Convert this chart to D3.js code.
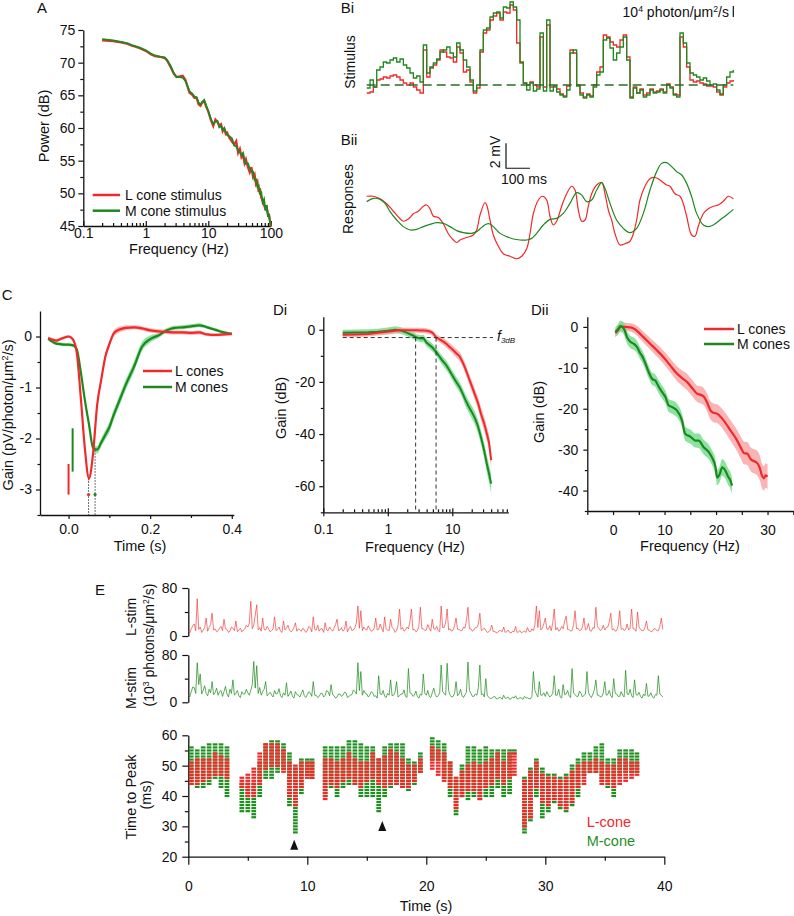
<!DOCTYPE html>
<html><head><meta charset="utf-8">
<script src="https://cdn.jsdelivr.net/npm/d3@7"></script>
<style>
body{margin:0;background:#fff;}
svg{display:block;}
</style></head><body>
<svg id="fig" width="794" height="916"></svg>
<script>
// ---------------- DATA ----------------
// Panel A: power spectra of stimuli
const aFreq = [0.2,0.3,0.4,0.5,0.6,0.7,0.8,1.0,1.2,1.4,1.7,2.0,2.2,2.5,2.8,3.1,3.5,3.9,4.3,4.7,5.0,5.5,6.0,6.5,7.0,7.5,8.0,8.6,9.2,10,11,12,13,14,15,16,17,18,19,20,22,24,26,28,30,32,34,36,38,40,43,46,49,52,55,58,61,64,67,70,74,78,82,86,90,94,97,100];
const aPowL = [73.4,73.3,73.1,72.9,72.6,72.4,72.2,71.8,71.3,71.0,70.9,70.7,70.3,69.3,68.3,67.8,67.9,68.0,67.4,66.2,65.4,65.1,64.6,64.6,63.6,63.4,63.9,64.1,63.3,62.5,61.2,60.3,61.3,60.9,60.4,60.6,59.5,59.9,59.1,59.3,58.4,57.9,57.5,58.0,56.2,56.8,55.5,55.8,54.6,55.2,54.0,53.2,54.0,52.5,52.9,51.4,51.8,50.2,50.8,49.4,48.8,48.2,47.6,47.9,46.8,46.5,45.8,44.9];
const aPowM = [73.6,73.4,73.2,73.0,72.7,72.5,72.3,71.9,71.4,71.1,70.9,70.8,70.4,69.5,68.4,67.8,67.8,67.7,67.2,66.3,65.6,65.3,64.8,64.7,63.9,63.6,64.0,64.3,63.5,62.6,61.4,60.6,61.0,61.1,60.1,60.3,59.7,60.0,59.4,58.9,58.7,58.4,57.3,57.2,56.6,56.3,55.9,56.2,55.0,54.5,54.6,53.8,53.3,53.3,52.0,52.1,51.0,51.2,49.8,50.3,48.6,49.1,47.4,48.2,46.4,46.9,45.5,45.0];
const aYTicks = [45,50,55,60,65,70,75];
const aXTicks = [0.1,1,10,100];

// Panel Bi: stimulus (frames of ~13.9 ms)
const biGreen = [12,20,13,30,33,38,37,40,42,38, 41,35,32,27,22,24,18,55,27,33, 37,41,48,50,53,47,43,57,50,40, 33,20,9,15,50,70,72,83,87,88, 82,93,92,98,93,80,38,17,10,17, 9,11,67,9,80,9,14,8,5,3, 10,47,50,14,5,2,5,3,13,25, 28,60,62,52,40,47,53,63,40,2, 12,7,10,3,5,10,7,8,10,7, 15,12,5,3,67,57,37,27,25,23, 20,22,19,15,16,10,6,15,23,28, 30];
const biRed = [7,8,13,20,21,23,22,24,25,23, 20,17,15,17,13,10,7,50,23,32, 35,40,50,48,43,42,38,53,47,28, 30,18,7,12,48,67,70,80,84,87, 80,88,87,95,90,57,37,17,15,18, 15,13,63,13,75,13,13,11,6,4, 14,50,47,15,7,3,6,4,15,28, 33,65,63,58,55,53,60,65,43,3, 13,7,11,5,7,11,8,9,11,8, 16,13,6,5,63,53,33,20,18,19, 17,16,14,14,13,8,5,13,17,19, 20];
const biMean = 15;
const biScaleBar = [83, 94];

// Panel Bii: responses [frame, mV]
const respL = [[0,1.1],[2,1.1],[4,0.9],[6,0.5],[8,-0.1],[10,-0.7],[11,-0.9],[12,-0.8],[13,-0.6],[14,-0.3],[15.5,-0.1],[17,0.3],[18,0.4],[19,0.1],[20,-0.5],[21.5,-0.6],[23,-1.1],[24.5,-1.9],[26,-2.4],[27,-2.6],[28,-2.4],[30,-2.2],[32,-2.0],[33,-1.6],[34,-0.4],[35.5,0.6],[36,0.4],[37,-0.8],[38,-2.0],[39.5,-2.9],[41,-3.5],[43,-3.7],[45,-3.9],[46.5,-3.7],[48,-3.1],[49,-1.9],[50,-0.3],[51.5,0.8],[52.8,1.1],[54,0.8],[55,-0.5],[56,-1.2],[57,-0.9],[58.5,0.3],[60,1.3],[61.5,1.9],[62.5,1.6],[63.5,0],[64.5,-0.9],[65.5,-0.8],[66.5,0.3],[67.5,1.3],[69,2.0],[70.5,2.2],[71.5,1.3],[72.5,0],[73.5,-0.8],[74.5,-1.9],[76,-2.8],[77.5,-2.7],[79,-2.5],[80,-1.9],[81,-0.8],[82,0.8],[83.5,1.9],[85,2.5],[86.5,2.6],[88,2.4],[90,2.0],[91,1.9],[92.5,1.3],[94,1.1],[95,0.5],[96,-0.5],[97.5,-2.0],[98.5,-2.1],[99.5,-1.3],[101,-0.3],[102.5,0.1],[104,0.3],[105.5,0.4],[107,0.7],[108.5,1.1],[110,0.9]];
const respM = [[0,0.67],[2,0.93],[4,0.85],[5.5,0.53],[7,-0.13],[9,-0.8],[11,-1.33],[13,-1.6],[15,-1.55],[17,-1.33],[19,-1.15],[21,-1.01],[23,-1.07],[25,-1.33],[27,-1.65],[29,-1.81],[31.5,-1.87],[33,-1.73],[34.5,-1.39],[36,-1.12],[37,-1.12],[38.5,-1.47],[40,-1.87],[42,-2.13],[44,-2.32],[46,-2.4],[48,-2.4],[49.5,-2.27],[51,-1.87],[53,-1.2],[55,-0.75],[57,-0.67],[59,-0.27],[61,0.53],[63,1.39],[64.5,1.2],[66,0.67],[67.5,0.8],[69,1.6],[70.5,2.19],[71.5,1.73],[73,0.53],[75,-0.8],[77,-1.47],[79,-1.81],[81,-1.47],[83,-0.27],[85,1.6],[87,3.07],[88.5,3.73],[90,3.79],[91.5,3.47],[93,3.07],[94.5,2.8],[96,2.13],[97.5,1.07],[99,-0.27],[101,-1.2],[102.5,-1.33],[104,-1.2],[106,-0.8],[108,-0.4],[110,0.05]];
const frameMs = 1000/72;

// Panel C: impulse responses
const cTime = [-0.05,-0.04,-0.03,-0.02,-0.01,0,0.01,0.02,0.03,0.04,0.05,0.06,0.07,0.08,0.09,0.1,0.11,0.12,0.13,0.14,0.16,0.18,0.2,0.22,0.24,0.26,0.28,0.3,0.32,0.34,0.36,0.38,0.4];
const cGainL = [-0.03,-0.06,-0.08,-0.05,-0.02,0.0,-0.05,-0.31,-1.2,-2.2,-2.78,-2.3,-1.35,-0.85,-0.4,-0.15,0.05,0.12,0.15,0.17,0.18,0.16,0.12,0.1,0.09,0.08,0.08,0.07,0.08,0.04,0.03,0.04,0.05];
const cGainM = [-0.04,-0.1,-0.14,-0.15,-0.16,-0.16,-0.17,-0.25,-0.7,-1.25,-1.72,-2.18,-2.22,-2.08,-1.93,-1.78,-1.55,-1.35,-1.15,-0.95,-0.6,-0.2,-0.05,0.02,0.12,0.17,0.18,0.2,0.22,0.18,0.13,0.08,0.05];
const cSemL = [0.03,0.03,0.03,0.03,0.03,0.03,0.03,0.04,0.05,0.06,0.07,0.07,0.07,0.07,0.07,0.07,0.06,0.06,0.05,0.05,0.04,0.04,0.04,0.04,0.04,0.04,0.04,0.04,0.04,0.03,0.03,0.03,0.03];
const cSemM = [0.03,0.03,0.03,0.03,0.03,0.03,0.03,0.04,0.05,0.06,0.06,0.06,0.07,0.08,0.09,0.1,0.1,0.1,0.1,0.1,0.1,0.09,0.07,0.05,0.04,0.04,0.04,0.04,0.04,0.03,0.03,0.03,0.03];
const cPeakT = [0.049, 0.065];
const cPeakG = [-2.78, -2.23];
const cOnsetBarL = [0.0, -2.5, -3.1];
const cOnsetBarM = [0.01, -1.8, -2.65];

// Panel Di: gain (log freq)
const diFreq = [0.2,0.3,0.5,0.7,1,1.3,1.6,2,2.5,2.8,3.2,3.6,4,4.5,5,5.6,6.3,7,8,9,10,11.5,13,14.5,16,18,20,22.5,25,28,31,34,37,40];
const diL = [-1.9,-1.8,-1.6,-1.2,-0.8,-0.4,-0.2,-0.2,-0.2,-0.2,-0.3,-0.3,-0.4,-0.7,-1.3,-2.9,-3.6,-4.3,-5.3,-6.5,-7.5,-9.0,-10.2,-12.5,-15,-18.5,-21.5,-25,-28,-32.5,-35.7,-39.5,-43,-50];
const diM = [-1.2,-1.1,-1.0,-0.8,-0.4,0,-0.3,-1.2,-2.3,-3.0,-3.4,-3.3,-5.0,-6.0,-7.0,-8.5,-10.2,-11.8,-13.5,-15.5,-17.5,-20,-22,-24.5,-27,-29.5,-31.5,-34,-37,-41.5,-46,-51,-55,-59];
const diSemL = [1,1,1,1,1,1,1,1,1,1,1,1,1,1,1,1.2,1.2,1.3,1.4,1.5,1.5,1.6,1.7,1.8,1.9,2,2,2.2,2.3,2.5,2.6,2.8,3,3];
const diSemM = [1.2,1.2,1.2,1.2,1.3,1.3,1.3,1.3,1.3,1.3,1.3,1.4,1.4,1.5,1.5,1.5,1.6,1.7,1.8,1.8,1.9,2,2,2.1,2.2,2.3,2.4,2.5,2.6,2.8,3,3.2,3.5,3.5];
const diF3dB = [2.7, 5.6];
const diLevel3dB = -3;

// Panel Dii: gain (linear freq)
const diiFreqL = [0.45,1.0,1.5,2.4,3.4,4.0,4.7,5.9,7.2,8.5,9.8,11.1,12.4,13.4,14.4,15.4,16.3,17.0,17.6,18.3,18.9,19.5,20.2,21.5,22.8,24.1,24.8,25.4,26.1,26.7,28,28.5,28.9,29.3,29.6,30];
const diiL = [-1.5,-0.7,0.1,0,-0.1,-0.4,-1.0,-2.5,-4.1,-5.7,-7.4,-9.4,-11.4,-12.5,-13.5,-15.0,-16.3,-16.6,-17.0,-18.6,-20.4,-21.0,-21.2,-22.9,-25.3,-27.8,-29.5,-30.8,-31.0,-32.3,-33.3,-34.5,-36.3,-37.0,-36.3,-36.6];
const diiSemL = [1,1,1,1,1,1.1,1.2,1.3,1.4,1.5,1.6,1.7,1.8,1.9,2,2,2,2.1,2.1,2.2,2.2,2.3,2.3,2.4,2.5,2.6,2.7,2.8,2.8,2.9,3,3,3,3,3,3];
const diiFreqM = [0.45,1.0,1.4,2.1,2.7,3.4,4.0,4.7,5.3,5.6,6.3,6.9,7.6,8.2,8.9,9.5,10.2,10.8,11.5,12.4,13.4,14.0,15.0,16.0,16.6,17.6,18.6,19.2,19.9,20.2,20.7,21.2,21.8,22.3,22.8,23.1];
const diiM = [-1.2,-0.5,0.2,-0.4,-2.5,-3.7,-4.1,-5.0,-6.5,-7.0,-9.0,-11.0,-12.7,-13.1,-14.7,-15.9,-17.2,-19.2,-19.6,-20.4,-22.9,-26.1,-26.8,-27.8,-27.8,-29.4,-30.6,-31.9,-34.3,-36.8,-36.0,-34.3,-35.1,-36.5,-37.6,-38.8];
const diiSemM = [1.2,1.3,1.4,1.5,1.5,1.5,1.5,1.5,1.5,1.5,1.5,1.5,1.5,1.5,1.6,1.6,1.6,1.6,1.6,1.7,1.7,1.7,1.7,1.7,1.8,1.8,1.8,1.8,1.9,1.9,1.9,2,2,2,2,2];

// Panel E: stimuli (every 0.125 s), 10^3 photons/um2/s
const eStimDt = 0.125;
const eStimL = [
 8,5,12,17,20,9,62,11,15,6,10,14,30,8,14,19,38,10,12,7,9,13,16,9,28,12,11,6,8,15,13,9,25,7,10,13,7,10,12,18,
 15,21,58,12,18,35,52,10,14,8,30,11,10,16,12,7,9,12,32,9,11,15,8,6,25,10,13,18,10,7,9,14,22,8,12,10,8,13,10,6,
 9,16,14,7,32,11,10,18,8,12,12,6,22,10,9,15,11,8,13,19,28,9,10,14,8,11,25,7,12,16,9,10,14,22,50,13,42,9,15,11,
 10,17,12,8,9,13,30,10,11,20,13,7,32,12,10,9,28,14,12,6,9,18,45,11,14,8,10,15,12,24,45,10,11,7,9,16,48,12,12,9,
 10,19,13,8,28,12,11,16,9,7,50,14,14,22,45,10,12,8,10,17,30,11,11,9,9,15,13,26,48,12,12,8,10,14,14,20,38,9,11,13,
 9,6,7,10,18,7,8,5,6,9,9,7,15,6,7,10,6,5,8,7,16,6,7,9,5,7,8,6,14,8,7,12,9,18,50,14,42,10,13,20,
 30,12,11,17,9,22,45,10,14,8,10,16,12,25,33,11,11,8,9,19,42,12,13,9,10,15,30,10,12,21,9,8,14,13,48,16,13,9,11,18,
 10,14,15,23,38,10,12,8,9,17,42,11,13,9,11,20,10,13,45,12,12,8,40,15,11,9,9,14,25,10,10,7,8,12,12,9,9,16,30,11];
const eStimM = [
 12,9,18,26,25,15,67,30,48,14,20,28,15,11,22,16,35,13,16,24,12,18,20,10,18,27,14,9,22,15,38,12,15,20,11,8,18,14,14,22,
 16,12,20,30,69,24,62,15,25,12,18,22,35,11,14,17,12,9,20,14,15,23,11,8,16,12,33,10,14,19,10,7,18,13,12,9,15,21,11,8,
 13,18,16,10,35,12,12,8,10,15,15,9,12,20,18,11,30,13,11,7,9,14,14,10,12,17,16,8,10,12,13,21,18,14,67,20,52,12,20,15,
 14,9,12,18,16,10,11,7,45,14,13,20,10,8,15,12,38,11,12,17,35,9,11,14,14,21,10,8,57,16,15,10,12,19,10,7,14,12,48,15,
 12,20,10,8,16,24,13,9,11,16,63,18,15,12,66,20,12,9,10,15,35,11,14,22,11,8,13,17,68,20,15,10,10,14,12,25,63,13,14,9,
 40,11,9,6,7,9,10,6,6,8,8,5,12,7,7,9,5,6,9,7,11,6,6,8,7,5,10,7,8,6,6,10,52,20,14,9,35,12,12,16,
 10,18,13,9,11,15,45,12,12,22,9,7,30,13,14,20,11,8,57,16,13,10,10,19,15,9,12,14,52,17,11,8,14,21,38,12,12,9,10,16,
 35,12,13,20,11,8,40,15,14,10,10,18,12,9,54,14,13,22,11,8,38,13,12,17,10,7,14,11,32,10,11,16,9,7,13,12,45,14,12,9];
// Panel E: time-to-peak columns (time s, L range ms, M range ms)
const eColT = [0.25,0.75,1.25,1.75,2.25,2.75,3.25, 4.5,5.0,5.5,6.0,6.5,7.0,7.5,8.0,8.5,9.0,9.5,10.0,10.4, 11.5,12.0,12.5,13.0,13.5,14.0,14.5,15.0,15.5,16.0,16.5,17.0,17.5,18.0,18.5,19.0,19.5, 20.5,21.0,21.5,22.0,22.5,23.0,23.5,24.0,24.5,25.0,25.5,26.0,26.5,27.0,27.4, 28.25,28.75,29.25,29.75,30.25,30.75,31.25,31.75,32.25,32.75,33.25,33.75,34.25,34.75,35.25,35.75,36.25,36.75,37.25,37.7];
const eLlo = [44,44,45,46,47,47,46, 43,40,40,44,49,50,50,48,40,37,43,46,46, 39,44,43,45,46,44,43,45,46,44,43,44,44,43,43,45,48, 49,47,45,43,36,40,42,42,39,43,44,46,44,46,47, 30,33,43,38,37,39,37,36,38,43,44,48,48,44,44,43,44,45,46,47];
const eLhi = [51,52,52,52,54,53,52, 46,47,49,54,57,57,57,55,51,50,51,51,51, 52,52,51,52,54,52,51,51,54,52,53,55,54,52,50,50,52, 56,55,54,51,46,48,50,51,50,51,52,54,51,54,54, 45,48,51,47,46,46,45,46,48,50,51,51,52,51,50,50,52,52,51,51];
const eMlo = [44,43,43,44,46,43,40, 35,35,33,40,46,46,48,49,37,28,41,47,46, 40,43,40,43,44,44,40,40,40,35,40,43,44,43,42,44,48, 52,52,46,40,34,40,39,40,39,40,40,43,40,41,54, 28,32,40,33,35,38,36,35,37,40,47,48,48,45,43,40,47,48,48,48];
const eMhi = [56,55,56,57,57,57,56, 44,44,44,51,57,58,58,57,54,49,52,52,52, 56,56,56,56,58,58,57,56,56,52,56,57,57,57,52,51,54, 59,58,57,51,45,50,56,56,55,56,55,55,55,55,55, 46,49,52,49,47,47,46,47,50,52,54,54,56,57,52,52,55,55,55,54];
const eArrowT = [8.9, 16.3];
const eArrowMs = [22.3, 28.45];

// ---------------- DRAWING ----------------
const FONT = '"Liberation Sans", Arial, Helvetica, sans-serif';
const RED = '#f02a2a', GREEN = '#1e881e';
const BAND_R = '#f7a3a3', BAND_G = '#6fdc8a';
const svg = d3.select('#fig');
svg.append('rect').attr('width',794).attr('height',916).attr('fill','#fff');

function styleAx(g, fs){
  g.attr('font-family', FONT).attr('font-size', fs||14);
  g.select('.domain').attr('stroke','#111').attr('stroke-width',1.3);
  g.selectAll('.tick line').attr('stroke','#111').attr('stroke-width',1.2);
  g.selectAll('.tick text').attr('fill','#111');
  return g;
}
function addAxis(axis, tx, ty, fs){
  return styleAx(svg.append('g').attr('transform',`translate(${tx},${ty})`).call(axis), fs);
}
function addTicks(axis, tx, ty){
  const g = svg.append('g').attr('transform',`translate(${tx},${ty})`).call(axis.tickFormat(''));
  g.select('.domain').remove();
  return styleAx(g);
}
function text(x,y,s,o={}){
  const t = svg.append('text').attr('x',x).attr('y',y).attr('font-family',FONT)
    .attr('font-size',o.fs||14).attr('fill',o.fill||'#111').attr('text-anchor',o.anchor||'start');
  if(o.italic) t.attr('font-style','italic');
  if(s!=null) t.text(s);
  return t;
}
function vtext(x,y,s,o={}){
  const t = svg.append('text').attr('transform',`translate(${x},${y}) rotate(-90)`).attr('font-family',FONT)
    .attr('font-size',o.fs||14).attr('fill','#111').attr('text-anchor','middle');
  if(s!=null) t.text(s);
  return t;
}
function rich(t, parts, fs){
  let shifted = false;
  parts.forEach(([s,sup])=>{
    const sp = t.append('tspan').text(s).attr('font-size', sup? fs*0.62 : fs);
    if(sup && !shifted){ sp.attr('dy', -fs*0.38); shifted = true; }
    else if(!sup && shifted){ sp.attr('dy', fs*0.38); shifted = false; }
  });
  return t;
}
const fmt = d => String(d);

// ===== Panel A =====
text(37, 13, 'A', {fs:15});
const ax = d3.scaleLog().domain([0.1,100]).range([83.3,270.8]);
const ay = d3.scaleLinear().domain([45,75]).range([226,30]);
addAxis(d3.axisLeft(ay).tickValues(aYTicks).tickSize(5).tickPadding(3).tickSizeOuter(0).tickFormat(fmt), 83.3, 0);
addTicks(d3.axisLeft(ay).tickValues([47.5,52.5,57.5,62.5,67.5,72.5]).tickSize(3), 83.3, 0);
addAxis(d3.axisBottom(ax).tickValues(aXTicks).tickSize(-5).tickPadding(2).tickSizeOuter(0).tickFormat(fmt), 0, 226);
const aMinor = [];
[0.1,1,10].forEach(d=>{ for(let k=2;k<=9;k++) aMinor.push(d*k); });
addTicks(d3.axisBottom(ax).tickValues(aMinor).tickSize(-3), 0, 226);
text(179, 254, 'Frequency (Hz)', {anchor:'middle', fs:14.5});
vtext(48.5, 126, 'Power (dB)', {fs:14.5});
const aLine = vals => d3.line().x((d,i)=>ax(aFreq[i])).y(d=>ay(d))(vals);
svg.append('path').attr('d', aLine(aPowL)).attr('fill','none').attr('stroke',RED).attr('stroke-width',2.2);
svg.append('path').attr('d', aLine(aPowM)).attr('fill','none').attr('stroke',GREEN).attr('stroke-width',1.8);
svg.append('line').attr('x1',92.7).attr('x2',120).attr('y1',195).attr('y2',195).attr('stroke',RED).attr('stroke-width',2.5);
svg.append('line').attr('x1',92.7).attr('x2',120).attr('y1',210.7).attr('y2',210.7).attr('stroke',GREEN).attr('stroke-width',2.5);
text(125, 200, 'L cone stimulus');
text(125, 215.7, 'M cone stimulus');

// ===== Panel Bi =====
text(340.7, 13, 'Bi', {fs:15});
vtext(355, 62, 'Stimulus');
const bx = d3.scaleLinear().domain([0,110]).range([366.7,733.3]);
const biy = d3.scaleLinear().domain([0,100]).range([100,0]);
const stepLine = d3.line().x((d,i)=>bx(i)).y(d=>biy(d)).curve(d3.curveStepAfter);
svg.append('path').attr('d', stepLine(biRed)).attr('fill','none').attr('stroke',RED).attr('stroke-width',1.3);
svg.append('path').attr('d', stepLine(biGreen)).attr('fill','none').attr('stroke',GREEN).attr('stroke-width',1.3);
svg.append('line').attr('x1',bx(0)).attr('x2',bx(110)).attr('y1',biy(biMean)).attr('y2',biy(biMean))
  .attr('stroke','#2a6e2a').attr('stroke-width',1.4).attr('stroke-dasharray','9,5');
rich(text(729, 17, null, {anchor:'end'}), [['10',0],['4',1],[' photon/\u03bcm',0],['2',1],['/s',0]], 14);
svg.append('line').attr('x1',bx(110)).attr('x2',bx(110)).attr('y1',biy(biScaleBar[1])).attr('y2',biy(biScaleBar[0])).attr('stroke','#111').attr('stroke-width',1.2);

// ===== Panel Bii =====
text(340.7, 144.5, 'Bii', {fs:15});
vtext(353, 199, 'Responses');
const biiy = d3.scaleLinear().domain([0,1]).range([210,197.5]);
const respLine = d3.line().x(d=>bx(d[0])).y(d=>biiy(d[1])).curve(d3.curveCatmullRom.alpha(0.5));
svg.append('path').attr('d', respLine(respL)).attr('fill','none').attr('stroke',RED).attr('stroke-width',1.2);
svg.append('path').attr('d', respLine(respM)).attr('fill','none').attr('stroke',GREEN).attr('stroke-width',1.2);
const sbT = 41.8, sbV = 3.34;
svg.append('path').attr('d', `M${bx(sbT)},${biiy(sbV+2)}V${biiy(sbV)}H${bx(sbT+100/frameMs)}`)
  .attr('fill','none').attr('stroke','#111').attr('stroke-width',1.2);
vtext(500, 152, '2 mV');
text(524, 184, '100 ms', {anchor:'middle'});

// ===== Panel C =====
text(1.7, 300, 'C', {fs:15});
const cx = d3.scaleLinear().domain([-0.07,0.405]).range([40,233.8]);
const cy = d3.scaleLinear().domain([-3.5,0.5]).range([515,311]);
addAxis(d3.axisLeft(cy).tickValues([-3,-2,-1,0]).tickSize(4).tickPadding(4).tickSizeOuter(0).tickFormat(fmt), 40, 0);
addTicks(d3.axisLeft(cy).tickValues([-3.5,-2.5,-1.5,-0.5]).tickSize(2.5), 40, 0);
addAxis(d3.axisBottom(cx).tickValues([0,0.2,0.4]).tickSize(4).tickPadding(5).tickSizeOuter(0).tickFormat(d3.format('.1f')), 0, 515);
addTicks(d3.axisBottom(cx).tickValues([0.1,0.3]).tickSize(3), 0, 515);
text(140, 551, 'Time (s)', {anchor:'middle', fs:14.5});
rich(vtext(13, 415, null, {fs:14.5}), [['Gain (pV/photon/\u03bcm',0],['2',1],['/s)',0]], 14.5);
const cArea = (vals, sem) => d3.area().x((d,i)=>cx(cTime[i])).y0((d,i)=>cy(d-sem[i])).y1((d,i)=>cy(d+sem[i])).curve(d3.curveMonotoneX)(vals);
const cLine = vals => d3.line().x((d,i)=>cx(cTime[i])).y(d=>cy(d)).curve(d3.curveMonotoneX)(vals);
svg.append('path').attr('d', cArea(cGainM, cSemM)).attr('fill',BAND_G).attr('opacity',0.8);
svg.append('path').attr('d', cArea(cGainL, cSemL)).attr('fill',BAND_R).attr('opacity',0.8);
cPeakT.forEach((t,i)=>{
  svg.append('line').attr('x1',cx(t)).attr('x2',cx(t)).attr('y1',cy(cPeakG[i])).attr('y2',cy(-3.5))
    .attr('stroke','#444').attr('stroke-width',1).attr('stroke-dasharray','1.5,1.5');
});
svg.append('path').attr('d', cLine(cGainM)).attr('fill','none').attr('stroke',GREEN).attr('stroke-width',2.2);
svg.append('path').attr('d', cLine(cGainL)).attr('fill','none').attr('stroke',RED).attr('stroke-width',2.2);
svg.append('circle').attr('cx',cx(cPeakT[0])).attr('cy',cy(-3.1)).attr('r',1.6).attr('fill',RED);
svg.append('circle').attr('cx',cx(cPeakT[1])).attr('cy',cy(-3.1)).attr('r',1.6).attr('fill',GREEN);
svg.append('line').attr('x1',cx(cOnsetBarL[0])).attr('x2',cx(cOnsetBarL[0])).attr('y1',cy(cOnsetBarL[1])).attr('y2',cy(cOnsetBarL[2])).attr('stroke',RED).attr('stroke-width',2);
svg.append('line').attr('x1',cx(cOnsetBarM[0])).attr('x2',cx(cOnsetBarM[0])).attr('y1',cy(cOnsetBarM[1])).attr('y2',cy(cOnsetBarM[2])).attr('stroke',GREEN).attr('stroke-width',2);
svg.append('line').attr('x1',143).attr('x2',172).attr('y1',371).attr('y2',371).attr('stroke',RED).attr('stroke-width',2.5);
svg.append('line').attr('x1',143).attr('x2',172).attr('y1',387).attr('y2',387).attr('stroke',GREEN).attr('stroke-width',2.5);
text(175, 376, 'L cones');
text(175, 392, 'M cones');

// ===== Panel Di =====
text(273, 315, 'Di', {fs:15});
const dix = d3.scaleLog().domain([0.1,73.8]).range([323.3,508.3]);
const diy = d3.scaleLinear().domain([-70,5]).range([512.3,316.7]);
addAxis(d3.axisLeft(diy).tickValues([-60,-40,-20,0]).tickSize(4).tickPadding(4).tickSizeOuter(0).tickFormat(fmt), 323.3, 0);
addTicks(d3.axisLeft(diy).tickValues([-70,-50,-30,-10]).tickSize(2.5), 323.3, 0);
addAxis(d3.axisBottom(dix).tickValues([0.1,1,10]).tickSize(4).tickPadding(7.5).tickSizeOuter(0).tickFormat(fmt), 0, 512.3);
addTicks(d3.axisBottom(dix).tickValues([0.1,1,10]).tickSize(-4), 0, 512.3);
const diMinor = [];
[0.1,1].forEach(d=>{ for(let k=2;k<=9;k++) diMinor.push(d*k); });
for(let k=2;k<=7;k++) diMinor.push(10*k);
addTicks(d3.axisBottom(dix).tickValues(diMinor).tickSize(-3), 0, 512.3);
text(415, 552, 'Frequency (Hz)', {anchor:'middle', fs:14.5});
vtext(286, 408, 'Gain (dB)', {fs:14.5});
const diArea = (vals, sem) => d3.area().x((d,i)=>dix(diFreq[i])).y0((d,i)=>diy(d-sem[i])).y1((d,i)=>diy(d+sem[i]))(vals);
const diLine = vals => d3.line().x((d,i)=>dix(diFreq[i])).y(d=>diy(d))(vals);
svg.append('path').attr('d', diArea(diM, diSemM)).attr('fill',BAND_G).attr('opacity',0.8);
svg.append('path').attr('d', diArea(diL, diSemL)).attr('fill',BAND_R).attr('opacity',0.8);
svg.append('path').attr('d', diLine(diM)).attr('fill','none').attr('stroke',GREEN).attr('stroke-width',2);
svg.append('path').attr('d', diLine(diL)).attr('fill','none').attr('stroke',RED).attr('stroke-width',2);
svg.append('line').attr('x1',dix(0.2)).attr('x2',493).attr('y1',diy(diLevel3dB)).attr('y2',diy(diLevel3dB))
  .attr('stroke','#333').attr('stroke-width',1).attr('stroke-dasharray','4,3');
diF3dB.forEach(f=>{
  svg.append('line').attr('x1',dix(f)).attr('x2',dix(f)).attr('y1',diy(diLevel3dB)).attr('y2',diy(-70))
    .attr('stroke','#333').attr('stroke-width',1).attr('stroke-dasharray','4,3');
});
const f3 = text(497, 341, null, {italic:true});
f3.append('tspan').text('f').attr('font-size',14);
f3.append('tspan').text('3dB').attr('font-size',8).attr('dy',2);

// ===== Panel Dii =====
text(531, 315, 'Dii', {fs:15});
const diix = d3.scaleLinear().domain([-5,35]).range([587.3,793.3]);
const diiy = d3.scaleLinear().domain([-45,2.5]).range([511,316.7]);
addAxis(d3.axisLeft(diiy).tickValues([-40,-30,-20,-10,0]).tickSize(4).tickPadding(5).tickSizeOuter(0).tickFormat(fmt), 587.3, 0);
addTicks(d3.axisLeft(diiy).tickValues([-45,-35,-25,-15,-5]).tickSize(2.5), 587.3, 0);
addAxis(d3.axisBottom(diix).tickValues([0,10,20,30]).tickSize(4).tickPadding(10).tickSizeOuter(0).tickFormat(fmt), 0, 511);
addTicks(d3.axisBottom(diix).tickValues([-5,5,15,25,35]).tickSize(4), 0, 511);
text(690, 551, 'Frequency (Hz)', {anchor:'middle', fs:14.5});
vtext(544, 412, 'Gain (dB)', {fs:14.5});
const diiArea = (fr, vals, sem) => d3.area().x((d,i)=>diix(fr[i])).y0((d,i)=>diiy(d-sem[i])).y1((d,i)=>diiy(d+sem[i])).curve(d3.curveMonotoneX)(vals);
const diiLine = (fr, vals) => d3.line().x((d,i)=>diix(fr[i])).y(d=>diiy(d)).curve(d3.curveMonotoneX)(vals);
svg.append('path').attr('d', diiArea(diiFreqL, diiL, diiSemL)).attr('fill',BAND_R).attr('opacity',0.8);
svg.append('path').attr('d', diiArea(diiFreqM, diiM, diiSemM)).attr('fill',BAND_G).attr('opacity',0.8);
svg.append('path').attr('d', diiLine(diiFreqL, diiL)).attr('fill','none').attr('stroke',RED).attr('stroke-width',2.2);
svg.append('path').attr('d', diiLine(diiFreqM, diiM)).attr('fill','none').attr('stroke',GREEN).attr('stroke-width',2.2);
svg.append('line').attr('x1',704).attr('x2',734).attr('y1',329).attr('y2',329).attr('stroke',RED).attr('stroke-width',2.5);
svg.append('line').attr('x1',704).attr('x2',734).attr('y1',344).attr('y2',344).attr('stroke',GREEN).attr('stroke-width',2.5);
text(737, 334, 'L cones');
text(737, 349, 'M cones');

// ===== Panel E =====
text(95, 595, 'E', {fs:15});
const ex = d3.scaleLinear().domain([0,40]).range([188.3,664.3]);
const eyL = d3.scaleLinear().domain([0,80]).range([636,588]);
const eyM = d3.scaleLinear().domain([0,80]).range([702.3,655]);
const eyT = d3.scaleLinear().domain([20,60]).range([856.7,735.3]);
addAxis(d3.axisLeft(eyL).tickValues([0,80]).tickSize(6).tickPadding(5).tickSizeOuter(0).tickFormat(fmt), 188.3, 0);
addTicks(d3.axisLeft(eyL).tickValues([40]).tickSize(3.5), 188.3, 0);
addAxis(d3.axisLeft(eyM).tickValues([0,80]).tickSize(6).tickPadding(5).tickSizeOuter(0).tickFormat(fmt), 188.3, 0);
addTicks(d3.axisLeft(eyM).tickValues([40]).tickSize(3.5), 188.3, 0);
svg.append('path').attr('d', d3.line().x((d,i)=>ex(i*eStimDt)).y(d=>eyL(d))(eStimL))
  .attr('fill','none').attr('stroke','#f03a3a').attr('stroke-width',0.8).attr('stroke-opacity',0.85);
svg.append('path').attr('d', d3.line().x((d,i)=>ex(i*eStimDt)).y(d=>eyM(d))(eStimM))
  .attr('fill','none').attr('stroke','#1e8a1e').attr('stroke-width',0.8).attr('stroke-opacity',0.9);
vtext(135.5, 617, 'L-stim');
vtext(135.5, 688, 'M-stim');
rich(vtext(154, 645, null), [['(10',0],['3',1],[' photons/\u03bcm',0],['2',1],['/s)',0]], 14);

addAxis(d3.axisLeft(eyT).tickValues([20,30,40,50,60]).tickSize(6).tickPadding(5).tickSizeOuter(0).tickFormat(fmt), 188.3, 0);
addTicks(d3.axisLeft(eyT).tickValues([25,35,45,55]).tickSize(3.5), 188.3, 0);
addAxis(d3.axisBottom(ex).tickValues([0,10,20,30,40]).tickSize(8).tickPadding(16).tickSizeOuter(0).tickFormat(fmt), 0, 856.7);
addTicks(d3.axisBottom(ex).tickValues([5,15,25,35]).tickSize(4), 0, 856.7);
text(426, 911, 'Time (s)', {anchor:'middle', fs:14.5});
vtext(136, 797, 'Time to Peak', {fs:14.5});
vtext(151, 795, '(ms)', {fs:14.5});

const dotW = 4.7, dotH = 2.2;
function dots(lo, hi, color){
  const pts = [];
  eColT.forEach((t,i)=>{ for(let m=lo[i]; m<=hi[i]; m++) pts.push([t,m]); });
  svg.append('g').selectAll('rect').data(pts).join('rect')
    .attr('x', d=>ex(d[0])-dotW/2).attr('y', d=>eyT(d[1])-dotH/2)
    .attr('width', dotW).attr('height', dotH).attr('fill', color);
}
dots(eMlo, eMhi, '#1f8f1f');
dots(eLlo, eLhi, '#f22828');
eArrowT.forEach((t,i)=>{
  const x = ex(t), yb = eyT(eArrowMs[i]);
  svg.append('path').attr('d', `M${x-4},${yb}L${x+4},${yb}L${x},${yb-10}Z`).attr('fill','#111');
});
text(586.7, 827.3, 'L-cone', {fill:'#f22828', fs:14.5});
text(586.7, 846.3, 'M-cone', {fill:'#1f8f1f', fs:14.5});
</script>
</body></html>
